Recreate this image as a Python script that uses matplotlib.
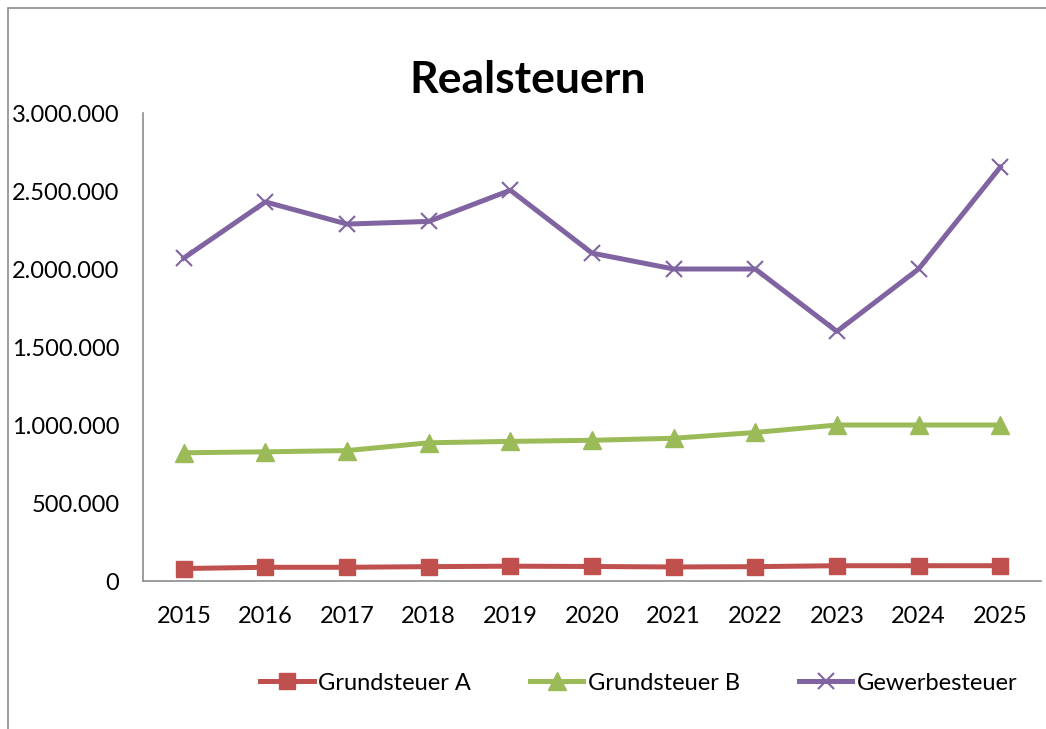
import matplotlib
matplotlib.use("Agg")
import matplotlib.pyplot as plt
from matplotlib.patches import Rectangle
from matplotlib.ticker import FuncFormatter

years = ["2015", "2016", "2017", "2018", "2019", "2020", "2021", "2022", "2023", "2024", "2025"]
grundsteuer_a = [80000, 88000, 88000, 92000, 95000, 93000, 90000, 92000, 98000, 98000, 98000]
grundsteuer_b = [822000, 828000, 836000, 886000, 895000, 902000, 915000, 952000, 1000000, 1000000, 1000000]
gewerbesteuer = [2070000, 2430000, 2288000, 2305000, 2505000, 2102000, 2000000, 2000000, 1600000, 2000000, 2652000]

plt.rcParams['font.family'] = ['Lato', 'DejaVu Sans']

W, H = 1046, 729
fig = plt.figure(figsize=(W / 100, H / 100), dpi=100)

# outer chart border
fig.patches.append(Rectangle((8 / W, -0.1), 1.2, 1 - 8 / H + 0.1, transform=fig.transFigure,
                             fill=False, edgecolor="#8c8c8c", linewidth=1.2))

ax = fig.add_axes([143 / W, 1 - 581 / H, (1041 - 143) / W, (581 - 113) / H])
x = list(range(len(years)))
ax.plot(x, grundsteuer_a, color="#C0504D", lw=3.6, marker="s", ms=12, label="Grundsteuer A")
ax.plot(x, grundsteuer_b, color="#9BBB59", lw=3.6, marker="^", ms=13, label="Grundsteuer B")
ax.plot(x, gewerbesteuer, color="#8064A2", lw=3.6, marker="x", ms=12, mew=1.5, label="Gewerbesteuer")

ax.set_xlim(-0.5, len(years) - 0.5)
ax.set_ylim(0, 3000000)
ax.set_yticks(range(0, 3000001, 500000))
ax.yaxis.set_major_formatter(FuncFormatter(lambda v, p: f"{int(v):,}".replace(",", ".")))
ax.set_xticks(x)
ax.set_xticklabels(years)
for s in ["top", "right"]:
    ax.spines[s].set_visible(False)
for s in ["left", "bottom"]:
    ax.spines[s].set_color("#8c8c8c")
    ax.spines[s].set_linewidth(1.2)
ax.tick_params(axis="both", length=0, labelsize=17, colors="black")
ax.tick_params(axis="y", pad=17)
ax.tick_params(axis="x", pad=18)

fig.text(528 / W, 1 - 80 / H, "Realsteuern", ha="center", va="center", fontsize=32, fontweight="bold")

fig.legend(loc="center", bbox_to_anchor=(639 / W, 1 - 683 / H), ncol=3, frameon=False,
           fontsize=17, handlelength=2.25, columnspacing=2.5, handletextpad=0.2)

fig.savefig("out.png", dpi=100)
